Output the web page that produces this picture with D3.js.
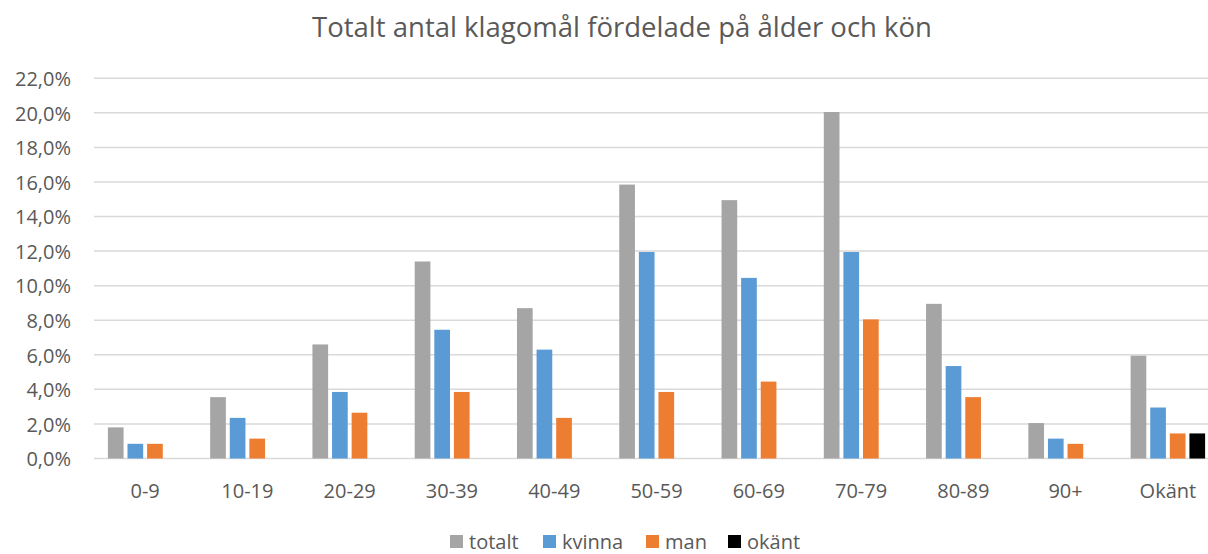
<!DOCTYPE html>
<html>
<head>
<meta charset="utf-8">
<script src="https://cdn.jsdelivr.net/npm/d3@7"></script>
<style>
    body { margin: 0; background: #fff; }
    svg { display: block; font-family: 'Open Sans', sans-serif; }
</style>
</head>
<body>
<div id="container"></div>
<script>
// data //

const categories = ['0-9', '10-19', '20-29', '30-39', '40-49', '50-59', '60-69', '70-79', '80-89', '90+', 'Okänt']
const seriesNames = ['totalt', 'kvinna', 'man', 'okänt']
const colors = ['#a5a5a5', '#5b9bd5', '#ed7d31', '#000000']

const totalt = [1.8, 3.55, 6.6, 11.4, 8.7, 15.85, 14.95, 20.05, 8.95, 2.05, 5.95]
const kvinna = [0.85, 2.35, 3.85, 7.45, 6.3, 11.95, 10.45, 11.95, 5.35, 1.15, 2.95]
const man = [0.85, 1.15, 2.65, 3.85, 2.35, 3.85, 4.45, 8.05, 3.55, 0.85, 1.45]
const okant = [null, null, null, null, null, null, null, null, null, null, 1.45]

const yTicks = [0, 2, 4, 6, 8, 10, 12, 14, 16, 18, 20, 22]

// chart //

const width = 1208
const height = 554
const margin = { top: 78, left: 94, bottom: 95 }
const plotRight = 1219

const svg = d3
    .select('#container')
    .append('svg')
    .attr('width', width)
    .attr('height', height)

const x = d3.scaleBand().domain(categories).range([margin.left, plotRight]).paddingInner(0).paddingOuter(0)
const slot = d3.scaleBand().domain(seriesNames).range([0, 74.5]).paddingInner(0.2).paddingOuter(0)
const y = d3.scaleLinear().domain([0, 22]).range([height - margin.bottom - 0.5, margin.top + 0.3])

// fit a text element to a measured width from the reference
function fitWidth(sel, target) {
    sel.each(function () {
        const len = this.getComputedTextLength()
        const size = parseFloat(this.style.fontSize)
        if (len > 0) this.style.fontSize = (size * target / len).toFixed(2) + 'px'
    })
}

// gridlines
svg.append('g')
    .selectAll('line')
    .data(yTicks)
    .join('line')
    .attr('x1', margin.left)
    .attr('x2', width)
    .attr('y1', (d) => y(d))
    .attr('y2', (d) => y(d))
    .attr('stroke', '#d9d9d9')
    .attr('stroke-width', 1.5)

// y axis labels
const yAxis = svg.append('g')
    .attr('transform', `translate(${margin.left - 23},0)`)
    .call(d3.axisLeft(y).tickValues(yTicks).tickSize(0).tickPadding(0)
        .tickFormat((d) => d.toFixed(1).replace('.', ',') + '%'))
yAxis.select('.domain').remove()
yAxis.selectAll('text')
    .attr('fill', '#595959')
    .attr('dy', '0.36em')
    .style('font-size', '20px')
    .style('font-family', "'Open Sans', sans-serif")

// x axis labels
const xAxis = svg.append('g')
    .attr('transform', `translate(0,${height - margin.bottom})`)
    .call(d3.axisBottom(x).tickSize(0).tickPadding(0))
xAxis.select('.domain').remove()
xAxis.selectAll('text')
    .attr('fill', '#595959')
    .attr('dy', null)
    .attr('y', 39)
    .style('font-size', '20px')
    .style('font-family', "'Open Sans', sans-serif")

// bars
const series = [totalt, kvinna, man, okant]
const barData = []
categories.forEach((cat, i) => {
    series.forEach((values, s) => {
        if (values[i] != null) {
            barData.push({ cat, name: seriesNames[s], value: values[i], color: colors[s] })
        }
    })
})

svg.append('g')
    .selectAll('rect')
    .data(barData)
    .join('rect')
    .attr('x', (d) => x(d.cat) + x.bandwidth() / 2 - 37.25 + slot(d.name))
    .attr('width', slot.bandwidth())
    .attr('y', (d) => y(d.value))
    .attr('height', (d) => y(0) - y(d.value))
    .attr('fill', (d) => d.color)

// title
svg.append('text')
    .attr('x', 622)
    .attr('y', 37)
    .attr('text-anchor', 'middle')
    .attr('fill', '#595959')
    .style('font-size', '28px')
    .text('Totalt antal klagomål fördelade på ålder och kön')
    .call(fitWidth, 620)

// legend
const legendX = [450, 543, 646, 728]
const legend = svg.append('g')
    .selectAll('g')
    .data(seriesNames)
    .join('g')
    .attr('transform', (d, i) => `translate(${legendX[i]},535)`)
legend.append('rect')
    .attr('width', 13)
    .attr('height', 13)
    .attr('fill', (d, i) => colors[i])
legend.append('text')
    .attr('x', 19)
    .attr('y', 13.5)
    .attr('fill', '#595959')
    .style('font-size', '20px')
    .text((d) => d)
</script>
</body>
</html>
